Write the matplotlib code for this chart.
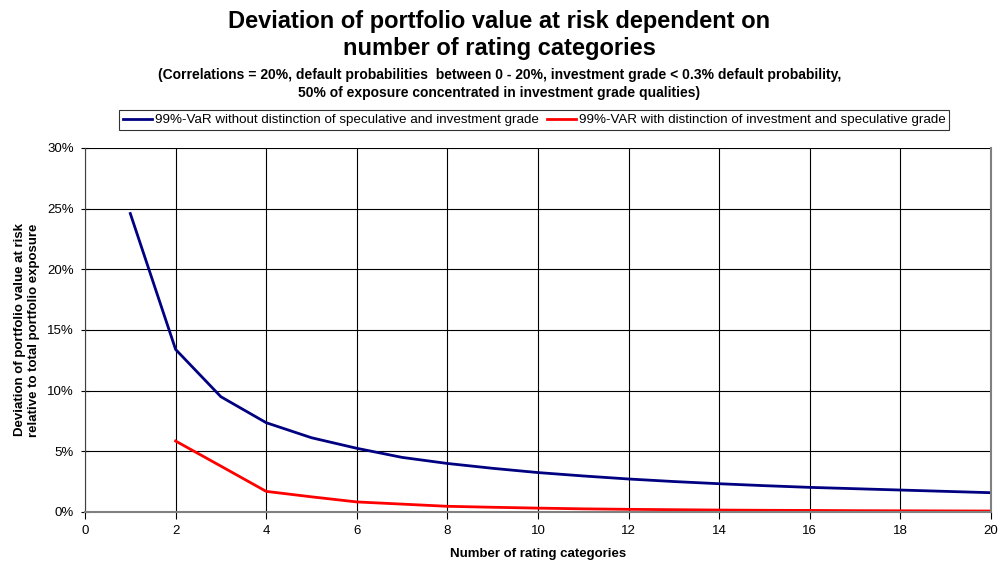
import matplotlib
matplotlib.use("Agg")
import matplotlib.pyplot as plt
from matplotlib.ticker import FuncFormatter

plt.rcParams['font.family'] = ['Liberation Sans', 'DejaVu Sans']

# Data
x_blue = [1, 2, 3, 4, 5, 6, 7, 8, 9, 10, 11, 12, 13, 14, 15, 16, 17, 18, 19, 20]
var_without = [24.6, 13.4, 9.5, 7.36, 6.12, 5.25, 4.5, 4.0, 3.6, 3.25, 2.97, 2.72, 2.51, 2.33, 2.17, 2.03, 1.92, 1.81, 1.7, 1.59]
x_red = [2, 3, 4, 5, 6, 7, 8, 9, 10, 11, 12, 13, 14, 15, 16, 17, 18, 19, 20]
var_with = [5.85, 3.78, 1.7, 1.25, 0.83, 0.65, 0.47, 0.39, 0.32, 0.26, 0.22, 0.19, 0.16, 0.14, 0.13, 0.11, 0.1, 0.09, 0.08]

label_blue = "99%-VaR without distinction of speculative and investment grade"
label_red = "99%-VAR with distinction of investment and speculative grade"
title = "Deviation of portfolio value at risk dependent on\nnumber of rating categories"
subtitle = ("(Correlations = 20%, default probabilities  between 0 - 20%, investment grade < 0.3% default probability,\n"
            "50% of exposure concentrated in investment grade qualities)")
xlabel = "Number of rating categories"
ylabel = "Deviation of portfolio value at risk\nrelative to total portfolio exposure"

fig = plt.figure(figsize=(9.99, 5.65), dpi=100)
ax = fig.add_axes([85/999, 53/565, 906/999, 364/565])

ax.plot(x_blue, var_without, color='#000080', lw=2, label=label_blue)
ax.plot(x_red, var_with, color='#FF0000', lw=2, label=label_red)

ax.set_xlim(0, 20)
ax.set_ylim(0, 30)
ax.set_xticks(range(0, 21, 2))
ax.set_yticks(range(0, 31, 5))
ax.yaxis.set_major_formatter(FuncFormatter(lambda v, p: f"{int(v)}%"))
ax.grid(True, color='black', lw=0.8)
ax.set_axisbelow(True)
ax.spines['top'].set_visible(False)
ax.spines['right'].set_color('#808080')
ax.spines['right'].set_linewidth(1.5)
ax.spines['left'].set_color('#404040')
ax.spines['bottom'].set_color('#808080')
ax.spines['bottom'].set_linewidth(1.5)
ax.tick_params(axis='y', direction='inout', length=6, labelsize=9.5, pad=5)
ax.tick_params(axis='x', direction='out', length=5, labelsize=9.5, pad=4)

ax.set_xlabel(xlabel, fontsize=9.5, fontweight='bold', labelpad=8)
ax.set_ylabel(ylabel, fontsize=9.5, fontweight='bold', labelpad=5)

fig.text(0.5, 1 - 35/565, title, ha='center', va='center', fontsize=17,
         fontweight='bold', linespacing=1.2)
fig.text(0.5, 1 - 84/565, subtitle, ha='center', va='center', fontsize=10,
         fontweight='bold', linespacing=1.35)

leg = fig.legend(loc='center', bbox_to_anchor=(534/999, 1 - 120/565), ncol=2,
                 fontsize=9.6, frameon=True, fancybox=False, edgecolor='black',
                 handlelength=2.2, handletextpad=0.2, columnspacing=0.6,
                 borderpad=0.3, borderaxespad=0)
leg.get_frame().set_linewidth(0.8)

fig.savefig("out.png", dpi=100)
